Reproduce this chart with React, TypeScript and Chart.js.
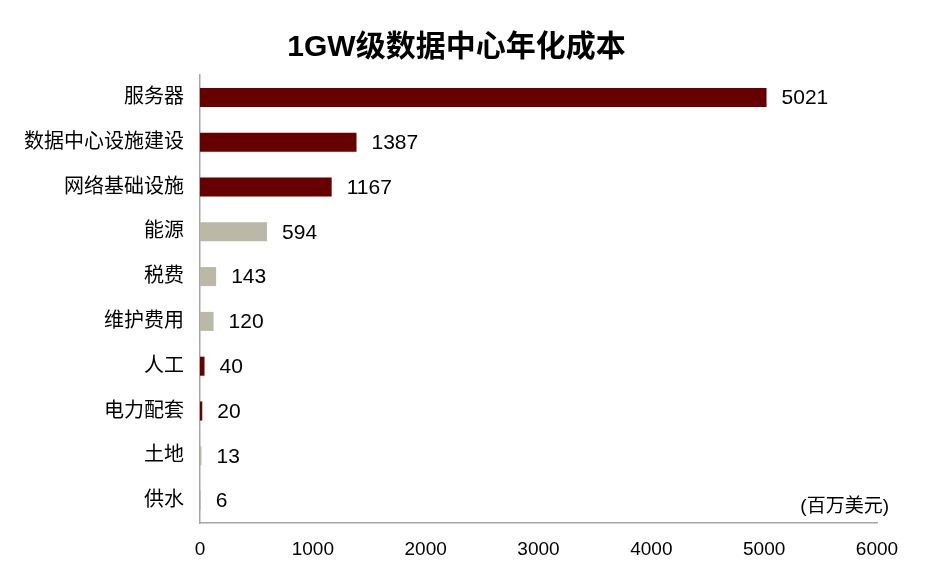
import { useEffect, useRef } from 'react';
import { Chart, registerables, type Plugin } from 'chart.js';

Chart.register(...registerables);

const categories = ['服务器', '数据中心设施建设', '网络基础设施', '能源', '税费', '维护费用', '人工', '电力配套', '土地', '供水'];
const costs = [5021, 1387, 1167, 594, 143, 120, 40, 20, 13, 6];
const highlighted = [true, true, true, false, false, false, true, true, false, false];
const xTicks = [0, 1000, 2000, 3000, 4000, 5000, 6000];
const unitLabel = '(百万美元)';
const title = '1GW级数据中心年化成本';

const RED = '#660000';
const GREY = '#BBB8A8';
const FONT = '"Liberation Sans", Arial, "Noto Sans CJK SC", sans-serif';

// value labels, unit note and the title (centred on the page, not the padded box)
const annotations: Plugin<'bar'> = {
    id: 'annotations',
    afterDatasetsDraw(chart) {
        const { ctx, chartArea } = chart;
        const meta = chart.getDatasetMeta(0);
        ctx.save();
        ctx.fillStyle = '#000';
        ctx.textBaseline = 'middle';

        ctx.font = `21px ${FONT}`;
        ctx.textAlign = 'left';
        meta.data.forEach((bar, i) => {
            ctx.fillText(String(costs[i]), bar.x + 15, bar.y + 1);
        });

        ctx.font = `19px ${FONT}`;
        ctx.textAlign = 'right';
        ctx.fillText(unitLabel, chartArea.right + 12, chartArea.bottom - 16);

        ctx.font = `bold 30px ${FONT}`;
        ctx.textAlign = 'center';
        ctx.fillText(title, chart.width / 2 - 8, 40);
        ctx.restore();
    }
};

export default function App() {
    const canvas = useRef<HTMLCanvasElement>(null);

    useEffect(() => {
        const chart = new Chart(
            // @ts-expect-error next
            canvas.current,
            {
                type: 'bar',
                data: {
                    labels: categories,
                    datasets: [{
                        label: '年化成本',
                        data: costs,
                        backgroundColor: highlighted.map(h => (h ? RED : GREY)),
                        borderWidth: 0,
                        barPercentage: 0.85,
                        categoryPercentage: 0.5
                    }]
                },
                options: {
                    indexAxis: 'y',
                    animation: false,
                    responsive: true,
                    maintainAspectRatio: false,
                    layout: {
                        padding: { top: 67, right: 44, bottom: 0, left: 0 }
                    },
                    plugins: {
                        legend: { display: false },
                        tooltip: { enabled: false },
                        title: { display: false }
                    },
                    scales: {
                        x: {
                            min: 0,
                            max: 6000,
                            afterBuildTicks: (scale) => {
                                scale.ticks = xTicks.map(v => ({ value: v }));
                            },
                            afterFit: (scale) => {
                                scale.height = 47;
                            },
                            grid: { display: false, drawTicks: false },
                            border: { display: true, color: '#A6A6A6', width: 1.5 },
                            ticks: {
                                color: '#000',
                                padding: 15,
                                maxRotation: 0,
                                font: { family: FONT, size: 19 },
                                callback: (value) => String(value)
                            }
                        },
                        y: {
                            afterFit: (scale) => {
                                scale.width = 192;
                            },
                            grid: { display: false, drawTicks: false },
                            border: { display: true, color: '#A6A6A6', width: 1.5 },
                            ticks: {
                                color: '#000',
                                padding: 16,
                                font: { family: FONT, size: 20 }
                            }
                        }
                    }
                },
                plugins: [annotations]
            }
        );

        return () => {
            chart.destroy();
        };
    }, []);

    return (
        <div style={{ width: 913, height: 562 }}>
            <canvas ref={canvas} role="img" aria-label={title}></canvas>
        </div>
    );
}
